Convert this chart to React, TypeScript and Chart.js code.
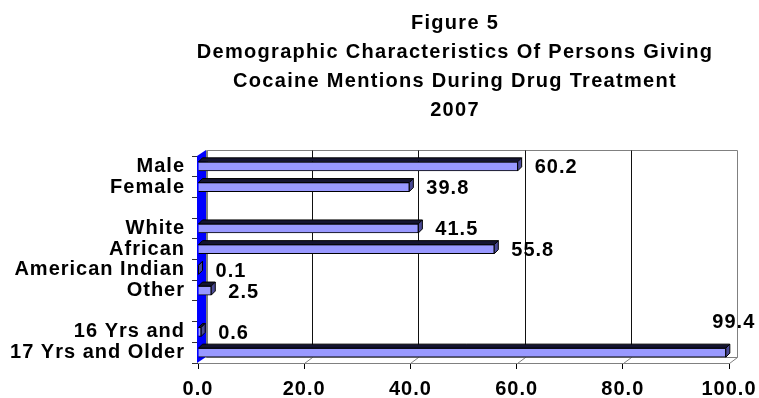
import { useEffect, useRef } from "react";
import { Chart, registerables } from "chart.js";

Chart.register(...registerables);

const categories = [
  "Male",
  "Female",
  "",
  "White",
  "African",
  "American Indian",
  "Other",
  "",
  "16 Yrs and",
  "17 Yrs and Older",
];
const percents: (number | null)[] = [60.2, 39.8, null, 41.5, 55.8, 0.1, 2.5, null, 0.6, 99.4];
const xTickValues = [0, 20, 40, 60, 80, 100];
const titleLines = [
  "Figure 5",
  "Demographic Characteristics Of Persons Giving",
  "Cocaine Mentions During Drug Treatment",
  "2007",
];

const FONT_FAMILY = "'Liberation Sans', Arial, Helvetica, sans-serif";
const BAR_DEPTH = 4;
const WALL_DX = 8;
const WALL_DY = 6;

const spacingPlugin = {
  id: "spacing",
  beforeUpdate(chart: any) {
    chart.ctx.letterSpacing = "1px";
  },
  beforeDraw(chart: any) {
    chart.ctx.letterSpacing = "1px";
  },
};

const wallPlugin = {
  id: "wall3d",
  beforeDatasetsDraw(chart: any) {
    const { ctx, chartArea } = chart;
    const { left: L, right: R, top: T, bottom: B } = chartArea;
    const xs = chart.scales.x;
    const line = (x1: number, y1: number, x2: number, y2: number) => {
      ctx.beginPath();
      ctx.moveTo(x1, y1);
      ctx.lineTo(x2, y2);
      ctx.stroke();
    };
    ctx.save();
    ctx.lineWidth = 1;
    ctx.strokeStyle = "#808080";
    const bl = Math.round(L + WALL_DX) + 0.5;
    const br = Math.round(R + WALL_DX) + 0.5;
    const bt = Math.round(T - WALL_DY) + 0.5;
    const bb = Math.round(B - WALL_DY) + 0.5;
    line(bl, bt, br, bt);
    line(br, bt, br, bb);
    line(bl, bb, br, bb);
    line(br, bb, Math.round(R) + 0.5, Math.round(B) + 0.5);
    xTickValues.forEach((v) => {
      if (v === 0 || v === 100) return;
      const px = Math.round(xs.getPixelForValue(v));
      ctx.strokeStyle = "#111";
      line(px + WALL_DX + 0.5, bt, px + WALL_DX + 0.5, bb);
      ctx.strokeStyle = "#808080";
      line(px + 0.5, Math.round(B) + 0.5, px + WALL_DX + 0.5, bb);
    });
    ctx.fillStyle = "#0000FF";
    ctx.beginPath();
    ctx.moveTo(L - 1, T);
    ctx.lineTo(L + WALL_DX, T - WALL_DY);
    ctx.lineTo(L + WALL_DX, B - WALL_DY);
    ctx.lineTo(L - 1, B);
    ctx.closePath();
    ctx.fill();
    ctx.strokeStyle = "#808080";
    ctx.lineWidth = 2;
    line(L + WALL_DX + 1, bt, L + WALL_DX + 1, bb);
    ctx.restore();
  },
};

const barPlugin = {
  id: "bar3d",
  afterDatasetsDraw(chart: any) {
    const { ctx } = chart;
    const meta = chart.getDatasetMeta(0);
    ctx.save();
    meta.data.forEach((bar: any, i: number) => {
      const v = percents[i];
      if (v == null) return;
      const { x, y, base, height } = bar.getProps(["x", "y", "base", "height"], true);
      const top = y - height / 2;
      const bottom = y + height / 2;
      const D = BAR_DEPTH;
      ctx.lineWidth = 1;
      ctx.strokeStyle = "#000";
      ctx.fillStyle = "#141430";
      ctx.beginPath();
      ctx.moveTo(base, top);
      ctx.lineTo(base + D, top - D);
      ctx.lineTo(x + D, top - D);
      ctx.lineTo(x, top);
      ctx.closePath();
      ctx.fill();
      ctx.stroke();
      ctx.fillStyle = "#4a4a96";
      ctx.beginPath();
      ctx.moveTo(x, top);
      ctx.lineTo(x + D, top - D);
      ctx.lineTo(x + D, bottom - D);
      ctx.lineTo(x, bottom);
      ctx.closePath();
      ctx.fill();
      ctx.stroke();
      ctx.letterSpacing = "1px";
      ctx.font = `bold 20px ${FONT_FAMILY}`;
      ctx.fillStyle = "#000";
      ctx.textBaseline = "alphabetic";
      const text = v.toFixed(1);
      const w = ctx.measureText(text).width;
      let lx = x + D + 13;
      let ly = y + 7;
      if (lx + w > chart.width - 2) {
        ctx.textAlign = "center";
        lx = x + D + 4;
        ly = y - 25;
      } else {
        ctx.textAlign = "left";
      }
      ctx.fillText(text, lx, ly);
    });
    ctx.restore();
  },
};

const titlePlugin = {
  id: "titleLines",
  afterDraw(chart: any) {
    const { ctx } = chart;
    ctx.save();
    ctx.letterSpacing = "1.3px";
    ctx.font = `bold 20px ${FONT_FAMILY}`;
    ctx.fillStyle = "#000";
    ctx.textAlign = "center";
    ctx.textBaseline = "alphabetic";
    titleLines.forEach((t, i) => {
      ctx.fillText(t, 455, 29 + i * 29);
    });
    ctx.restore();
  },
};

export default function App() {
  const canvasRef = useRef<HTMLCanvasElement | null>(null);

  useEffect(() => {
    if (!canvasRef.current) return;
    const font = { family: FONT_FAMILY, size: 20, weight: "bold" as const };
    const chart = new Chart(canvasRef.current, {
      type: "bar",
      data: {
        labels: categories,
        datasets: [
          {
            data: percents as any,
            backgroundColor: "#9999FF",
            borderColor: "#000",
            borderWidth: 1,
            barThickness: 9,
          },
        ],
      },
      plugins: [spacingPlugin, wallPlugin, barPlugin, titlePlugin],
      options: {
        indexAxis: "y",
        responsive: false,
        animation: false,
        devicePixelRatio: 1,
        layout: { padding: { top: 156, right: 30, bottom: 0, left: 0 } },
        plugins: {
          legend: { display: false },
          title: { display: false },
          tooltip: { enabled: false },
        },
        scales: {
          x: {
            min: 0,
            max: 100,
            afterBuildTicks: (s: any) => {
              s.ticks = xTickValues.map((v) => ({ value: v }));
            },
            ticks: {
              callback: (v: any) => Number(v).toFixed(1),
              font,
              color: "#000",
              padding: 8,
              maxRotation: 0,
              autoSkip: false,
            },
            grid: {
              drawOnChartArea: false,
              drawTicks: true,
              tickLength: 6,
              tickColor: "#000",
            },
            border: { display: true, color: "#808080" },
            afterFit: (s: any) => {
              s.height = 35;
              s.paddingLeft = 0;
              s.paddingRight = 0;
            },
          },
          y: {
            type: "category",
            ticks: { font, color: "#000", padding: 7, autoSkip: false },
            grid: {
              drawOnChartArea: false,
              drawTicks: true,
              tickLength: 6,
              tickColor: "#333",
              offset: true,
            },
            border: { display: false },
            afterFit: (s: any) => {
              s.width = 198;
              s.paddingTop = 0;
              s.paddingBottom = 0;
            },
          },
        },
      },
    });
    return () => chart.destroy();
  }, []);

  return (
    <div style={{ position: "fixed", left: 0, top: 0, width: 759, height: 398, background: "#fff" }}>
      <canvas ref={canvasRef} width={759} height={398} />
    </div>
  );
}
